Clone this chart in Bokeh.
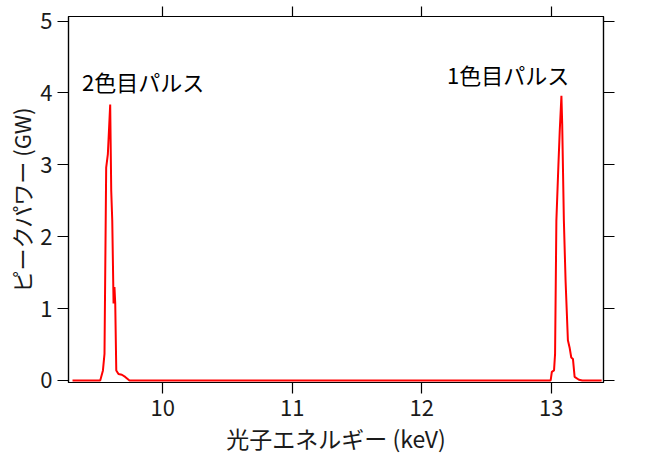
from bokeh.plotting import figure
from bokeh.models import LinearAxis, Range1d, FixedTicker, Label
from bokeh.embed import file_html
from bokeh.resources import INLINE

# ---- data ----
energy_kev = [9.303, 9.517, 9.538, 9.550, 9.563, 9.576, 9.594, 9.602, 9.610,
              9.620, 9.627, 9.633, 9.641, 9.658, 9.684, 9.710, 9.743,
              12.996, 13.005, 13.022, 13.030, 13.040, 13.056, 13.066, 13.079,
              13.085, 13.098, 13.111, 13.129, 13.142, 13.155, 13.168, 13.181,
              13.214, 13.240, 13.390]
power_gw = [0.0, 0.0, 0.14, 0.37, 2.96, 3.15, 3.84, 2.64, 2.22,
            1.07, 1.30, 1.07, 0.14, 0.09, 0.08, 0.05, 0.0,
            0.0, 0.12, 0.14, 0.37, 2.22, 3.01, 3.47, 3.96,
            3.57, 2.22, 1.39, 0.56, 0.46, 0.32, 0.30, 0.05,
            0.01, 0.0, 0.0]
x_ticks = [10, 11, 12, 13]
y_ticks = [0, 1, 2, 3, 4, 5]
pulse_labels = ["2色目パルス", "1色目パルス"]
pulse_label_x = [9.376, 12.196]
pulse_label_y = [4.17, 4.27]
x_title = "光子エネルギー (keV)"
y_title = "ピークパワー (GW)"

FONT = "Noto Sans CJK JP"
TXT = "#1a1a1a"
FS = "22px"

p = figure(width=650, height=464, output_backend="svg", toolbar_location=None,
           x_range=Range1d(9.272, 13.404), y_range=Range1d(-0.028, 5.063),
           min_border_left=68, min_border_right=47, min_border_top=16,
           min_border_bottom=82)
p.grid.visible = False
p.outline_line_color = "black"
p.outline_line_width = 1.2
p.background_fill_color = "white"
p.border_fill_color = "white"

def style_axis(ax, ticks, show_labels):
    ax.ticker = FixedTicker(ticks=ticks)
    ax.axis_line_color = "black"
    ax.axis_line_width = 1.2
    ax.major_tick_line_color = "black"
    ax.major_tick_line_width = 1.2
    ax.major_tick_out = 11
    ax.major_tick_in = 0
    ax.minor_tick_out = 0
    ax.minor_tick_in = 0
    ax.major_label_text_font = FONT
    if show_labels:
        ax.major_label_text_font_size = FS
        ax.major_label_text_color = TXT
    else:
        ax.major_label_text_font_size = "1px"
        ax.major_label_text_color = None
        ax.major_label_standoff = 0

xa = p.xaxis[0]
ya = p.yaxis[0]
style_axis(xa, x_ticks, True)
style_axis(ya, y_ticks, True)
xa.major_label_standoff = 6
ya.major_label_standoff = 5
xa.axis_label = x_title
ya.axis_label = y_title
for ax in (xa, ya):
    ax.axis_label_text_font = FONT
    ax.axis_label_text_font_size = FS
    ax.axis_label_text_font_style = "normal"
    ax.axis_label_text_color = TXT
xa.axis_label_text_font_size = "23px"
xa.axis_label_standoff = 2
ya.axis_label_standoff = 0

top = LinearAxis()
style_axis(top, x_ticks, False)
top.major_tick_out = 10
p.add_layout(top, "above")
right = LinearAxis()
style_axis(right, y_ticks, False)
p.add_layout(right, "right")

p.line(energy_kev, power_gw, line_color="#ff0000", line_width=2)

for t, lx, ly in zip(pulse_labels, pulse_label_x, pulse_label_y):
    p.add_layout(Label(x=lx, y=ly, text=t, text_font=FONT, text_font_size=FS,
                       text_color="black", text_baseline="middle", text_align="left"))

open("out.html", "w").write(file_html(p, INLINE))
